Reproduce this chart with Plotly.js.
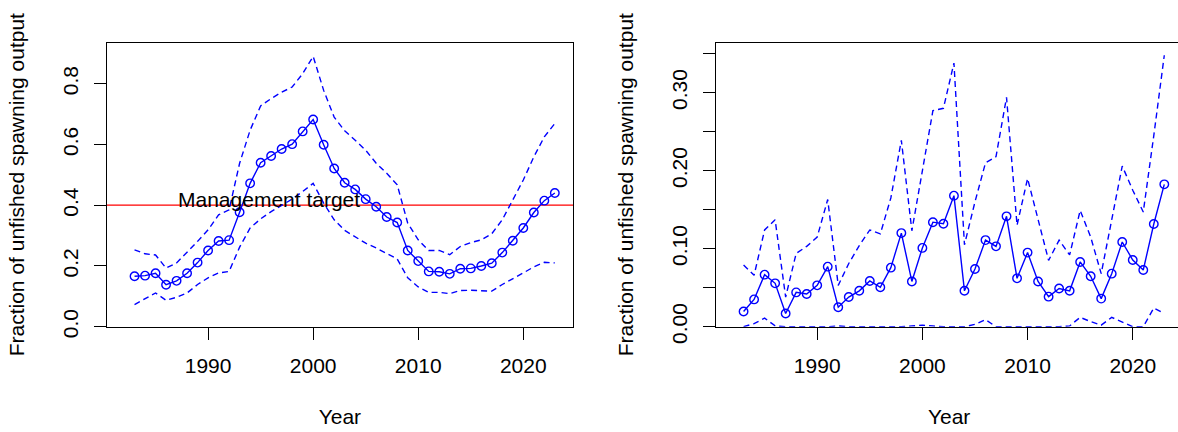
<!DOCTYPE html>
<html>
<head>
<meta charset="utf-8">
<script src="https://cdn.plot.ly/plotly-3.0.1.min.js"></script>
<style>
html, body { margin:0; padding:0; overflow:hidden; background:#fff; }
#chart { width:1184px; height:432px; }
</style>
</head>
<body>
<div id="chart"></div>
<script>
const years = [1983,1984,1985,1986,1987,1988,1989,1990,1991,1992,1993,1994,1995,1996,1997,1998,1999,2000,2001,2002,2003,2004,2005,2006,2007,2008,2009,2010,2011,2012,2013,2014,2015,2016,2017,2018,2019,2020,2021,2022,2023];

// Left panel: fraction of unfished spawning output
const leftEst = [0.166,0.168,0.176,0.138,0.151,0.176,0.211,0.251,0.282,0.285,0.377,0.472,0.540,0.562,0.585,0.601,0.643,0.682,0.599,0.521,0.474,0.452,0.420,0.395,0.361,0.343,0.251,0.216,0.182,0.181,0.174,0.191,0.192,0.200,0.209,0.244,0.283,0.325,0.376,0.415,0.440];
const leftUpper = [0.253,0.240,0.236,0.193,0.210,0.245,0.281,0.319,0.368,0.385,0.538,0.647,0.727,0.751,0.772,0.789,0.833,0.890,0.778,0.690,0.645,0.614,0.581,0.538,0.505,0.467,0.341,0.286,0.251,0.251,0.237,0.264,0.277,0.286,0.306,0.352,0.417,0.483,0.559,0.625,0.669];
const leftLower = [0.073,0.092,0.111,0.087,0.097,0.111,0.139,0.161,0.177,0.182,0.262,0.325,0.355,0.379,0.399,0.420,0.445,0.472,0.407,0.352,0.317,0.297,0.275,0.259,0.240,0.223,0.161,0.131,0.113,0.113,0.109,0.119,0.120,0.119,0.117,0.139,0.157,0.177,0.197,0.212,0.210];
const targetValue = 0.4;
const targetLabel = "Management target";

// Right panel
const rightEst = [0.0195,0.035,0.0667,0.0556,0.017,0.044,0.042,0.053,0.077,0.025,0.038,0.046,0.0586,0.0505,0.0757,0.120,0.058,0.101,0.134,0.132,0.168,0.046,0.074,0.111,0.103,0.1415,0.062,0.095,0.058,0.0385,0.049,0.046,0.083,0.0646,0.036,0.068,0.1086,0.0855,0.0727,0.1317,0.1825];
const rightUpper = [0.079,0.066,0.124,0.137,0.038,0.094,0.103,0.115,0.163,0.053,0.081,0.104,0.124,0.119,0.165,0.239,0.123,0.200,0.277,0.280,0.338,0.105,0.160,0.210,0.218,0.294,0.130,0.190,0.137,0.085,0.111,0.092,0.149,0.115,0.068,0.137,0.206,0.175,0.147,0.245,0.348];
const rightLower = [0,0.004,0.011,0.001,0,0,0,0,0,0.001,0,0,0,0,0,0,0.001,0.002,0.001,0,0,0,0.003,0.009,0,0,0,0,0,0,0,0.001,0.012,0.0065,0.002,0.012,0.006,0,0,0.024,0.017];

const leftYTicks = [0, 0.2, 0.4, 0.6, 0.8];
const leftYTickText = ["0.0","0.2","0.4","0.6","0.8"];
const rightYTicks = [0,0.05,0.10,0.15,0.20,0.25,0.30,0.35];
const rightYTickText = ["0.00","","0.10","","0.20","","0.30",""];
const xTicks = [1990,2000,2010,2020];

const blue = "#0000FF";
const FONT = "Liberation Sans, Arial, Helvetica, sans-serif";
const FS = 21;

function estTrace(y, xa, ya) {
  return {x: years, y: y, xaxis: xa, yaxis: ya, type: "scatter", mode: "lines+markers",
    line: {color: blue, width: 1.4},
    marker: {symbol: "circle-open", size: 8.5, color: blue, line: {color: blue, width: 1.4}},
    cliponaxis: false, showlegend: false, hoverinfo: "x+y"};
}
function ciTrace(y, xa, ya) {
  return {x: years, y: y, xaxis: xa, yaxis: ya, type: "scatter", mode: "lines",
    line: {color: blue, width: 1.4, dash: "6px,4px"}, showlegend: false, hoverinfo: "x+y"};
}

const data = [
  ciTrace(leftUpper, "x", "y"),
  ciTrace(leftLower, "x", "y"),
  estTrace(leftEst, "x", "y"),
  ciTrace(rightUpper, "x2", "y2"),
  ciTrace(rightLower, "x2", "y2"),
  estTrace(rightEst, "x2", "y2")
];

const W = 1184, H = 432;
const yDom = [(H-326.7)/H, (H-42.7)/H];
const xRange = [1980.35, 2024.73];

function xAxis(dom, anchor) {
  return {domain: dom, anchor: anchor, range: xRange, tickvals: xTicks, ticktext: xTicks.map(String),
    ticks: "outside", ticklen: 12, tickwidth: 1, tickcolor: "#000", ticklabelstandoff: 8,
    showline: true, mirror: true, linecolor: "#000", linewidth: 1,
    showgrid: false, zeroline: false, layer: "below traces",
    tickfont: {family: FONT, size: FS, color: "#000"},
    title: {text: "Year", font: {family: FONT, size: FS, color: "#000"}, standoff: 33},
    automargin: false};
}
function yAxis(range, vals, text, anchor) {
  return {domain: yDom, anchor: anchor, range: range, tickvals: vals, ticktext: text,
    tickangle: -90,
    ticks: "outside", ticklen: 12, tickwidth: 1, tickcolor: "#000", ticklabelstandoff: 7,
    showline: true, mirror: true, linecolor: "#000", linewidth: 1,
    showgrid: false, zeroline: false, layer: "below traces",
    tickfont: {family: FONT, size: FS, color: "#000"},
    title: {text: "Fraction of unfished spawning output", font: {family: FONT, size: FS, color: "#000"}, standoff: 28},
    automargin: false};
}

const layout = {
  width: W, height: H,
  margin: {l: 0, r: 0, t: 0, b: 0},
  paper_bgcolor: "#fff", plot_bgcolor: "#fff",
  font: {family: FONT, size: FS, color: "#000"},
  showlegend: false,
  xaxis: xAxis([106.7/W, 573/W], "y"),
  yaxis: yAxis([0, 0.935], leftYTicks, leftYTickText, "x"),
  xaxis2: xAxis([715.7/W, 1182.5/W], "y2"),
  yaxis2: yAxis([0, 0.3641], rightYTicks, rightYTickText, "x2"),
  shapes: [{type: "line", xref: "x domain", yref: "y", x0: 0, x1: 1, y0: targetValue, y1: targetValue,
    line: {color: "#FF0000", width: 1.3}, layer: "below"}],
  annotations: [{xref: "x", yref: "y", x: 1995.8, y: 0.4195, text: targetLabel, showarrow: false,
    xanchor: "center", yanchor: "middle", font: {family: FONT, size: FS, color: "#000"}}]
};

Plotly.newPlot("chart", data, layout, {staticPlot: true, displayModeBar: false});
</script>
</body>
</html>
